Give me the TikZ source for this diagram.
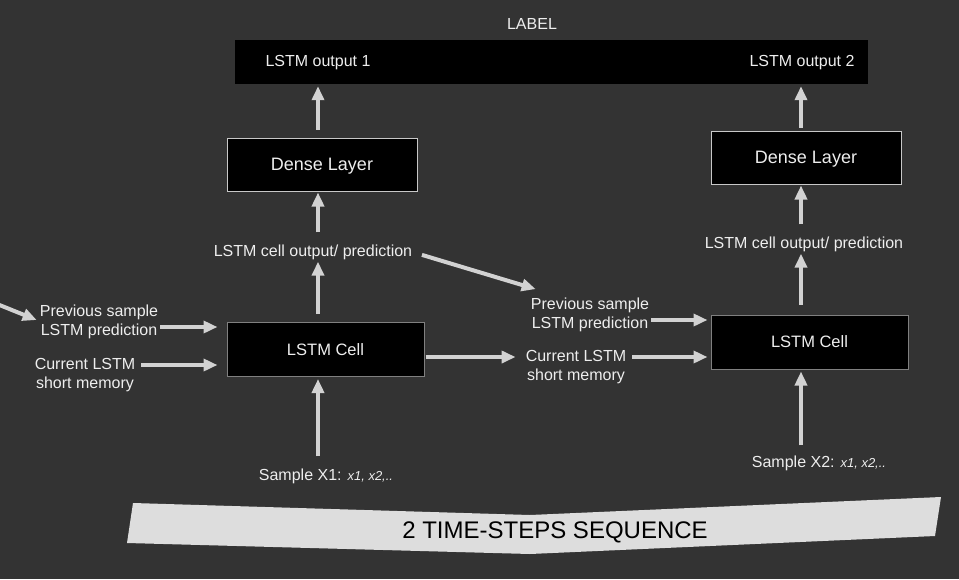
\documentclass[tikz,border=0pt]{standalone}
\usepackage{fontspec}
\setmainfont{Liberation Sans}
\usetikzlibrary{arrows.meta,calc}
\definecolor{bg}{HTML}{333333}
\definecolor{arrowc}{HTML}{D2D2D2}
\definecolor{txtc}{HTML}{EEEEEE}
\definecolor{bannerc}{HTML}{DDDDDD}
\definecolor{borderA}{HTML}{C8C8C8}
\definecolor{borderB}{HTML}{808080}
\tikzset{
  arr/.style={draw=arrowc, line width=4pt, -{Triangle[width=12pt,length=14pt]}},
  txt/.style={text=txtc, inner sep=0pt, font=\fontsize{16}{18.5}\selectfont, align=center, yshift=-2pt},
  densebox/.style={fill=black, draw=borderA, line width=1pt, minimum width=190pt, minimum height=53pt, inner sep=0pt, text depth=0pt, text=txtc, font=\fontsize{18}{20}\selectfont},
  cellbox/.style={fill=black, draw=borderB, line width=1pt, minimum width=197pt, minimum height=54pt, inner sep=0pt, text=txtc, font=\fontsize{16.5}{19}\selectfont, yshift=-0.5pt},
}
\begin{document}
\begin{tikzpicture}[x=1pt,y=-1pt]
\useasboundingbox (0,0) rectangle (959,579);
\fill[bg] (0,0) rectangle (959,579);

% banner
\fill[bannerc] (133,503) -- (530,515) -- (941,497) -- (935,536) -- (530,554) -- (127,543) -- cycle;
\node[inner sep=0pt, text=black, font=\fontsize{24}{28}\selectfont] (banner) at (555,532) {2 TIME-STEPS SEQUENCE};

% top label bar
\node[txt] (label) at (532,22) {LABEL};
\node[fill=black, minimum width=633pt, minimum height=44pt, inner sep=0pt] (bar) at (551,62) {};
\node[txt] (out1) at (318,61) {LSTM output 1};
\node[txt] (out2) at (802,61) {LSTM output 2};

% boxes
\node[densebox] (dense1) at (322,164.5) {Dense Layer};
\node[densebox] (dense2) at (806,157.5) {Dense Layer};
\node[cellbox] (cell1) at (325.5,349) {LSTM Cell};
\node[cellbox] (cell2) at (809.5,341.5) {LSTM Cell};

% text labels
\node[txt] (pred1) at (313,250) {LSTM cell output/ prediction};
\node[txt] (pred2) at (804,242) {LSTM cell output/ prediction};
\node[txt] (prev0) at (99,320) {Previous sample\\LSTM prediction};
\node[txt] (cur0) at (85,373) {Current LSTM\\short memory};
\node[txt] (prev2) at (590,313) {Previous sample\\LSTM prediction};
\node[txt] (cur2) at (576,365) {Current LSTM\\short memory};
\node[txt] (samp1) at (326,474) {Sample X1: {\fontsize{13}{15}\selectfont\itshape x1, x2,..}};
\node[txt] (samp2) at (819,461) {Sample X2: {\fontsize{13}{15}\selectfont\itshape x1, x2,..}};

% axis coordinates
\coordinate (ax1) at (318,0);
\coordinate (ax2) at (801,0);
\coordinate (l1) at (0,327);
\coordinate (l2) at (0,365);
\coordinate (r1) at (0,320);
\coordinate (r2) at (0,357);
\coordinate (inL) at (-3,304);

% vertical arrows, step 1
\draw[arr, shorten <=8pt, shorten >=2pt] (dense1.north -| ax1) -- (bar.south -| ax1);
\draw[arr, shorten <=12pt, shorten >=1pt] (pred1.north -| ax1) -- (dense1.south -| ax1);
\draw[arr, shorten <=8pt, shorten >=2pt] (cell1.north -| ax1) -- (pred1.south -| ax1);
\draw[arr, shorten <=12pt, shorten >=2pt] (samp1.north -| ax1) -- (cell1.south -| ax1);

% vertical arrows, step 2
\draw[arr, shorten <=3pt, shorten >=2pt] (dense2.north -| ax2) -- (bar.south -| ax2);
\draw[arr, shorten <=12pt, shorten >=1pt] (pred2.north -| ax2) -- (dense2.south -| ax2);
\draw[arr, shorten <=10pt, shorten >=2pt] (cell2.north -| ax2) -- (pred2.south -| ax2);
\draw[arr, shorten <=10pt, shorten >=2pt] (samp2.north -| ax2) -- (cell2.south -| ax2);

% horizontal arrows, left
\draw[arr] (inL) -- ([shift={(-3,-2)}]prev0.west);
\draw[arr, shorten <=2pt, shorten >=9pt] (prev0.east |- l1) -- (cell1.west |- l1);
\draw[arr, shorten <=6pt, shorten >=9pt] (cur0.east |- l2) -- (cell1.west |- l2);

% middle arrows
\draw[arr, shorten <=10pt] (pred1.east) -- ([shift={(5,-9)}]prev2.north west);
\draw[arr, shorten <=1pt, shorten >=10pt] (cell1.east |- r2) -- (cur2.west |- r2);
\draw[arr, shorten <=2pt, shorten >=3pt] (prev2.east |- r1) -- (cell2.west |- r1);
\draw[arr, shorten <=6pt, shorten >=3pt] (cur2.east |- r2) -- (cell2.west |- r2);
\end{tikzpicture}
\end{document}
